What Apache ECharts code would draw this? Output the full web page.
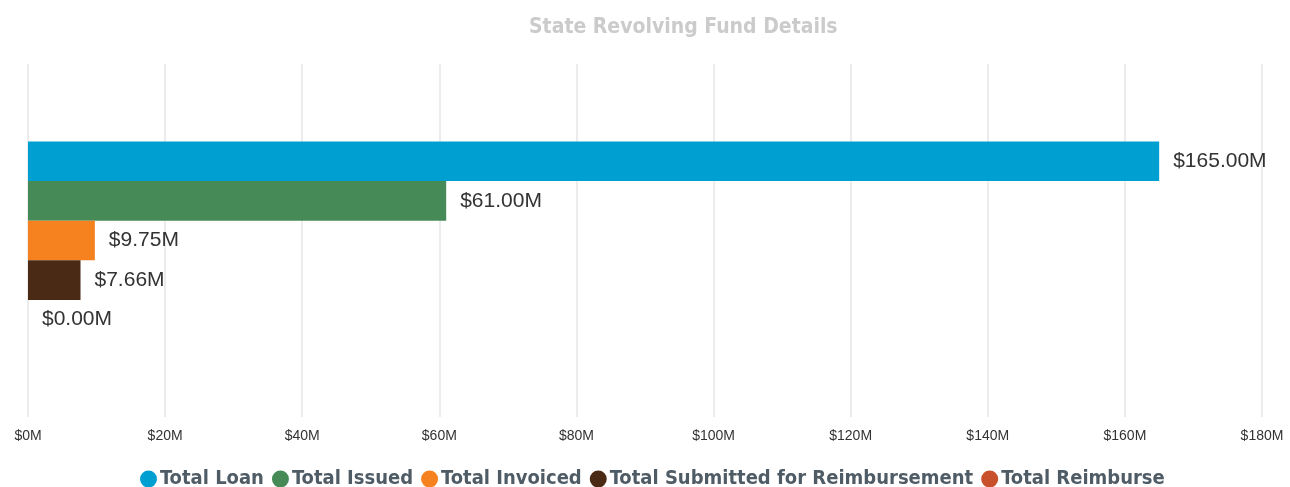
<!DOCTYPE html>
<html><head><meta charset="utf-8">
<script src="https://cdn.jsdelivr.net/npm/echarts@6/dist/echarts.min.js"></script>
<style>html,body{margin:0;padding:0;background:#fff}#c{width:1290px;height:487px}</style>
</head><body><div id="c"></div>
<script>
const categories = ['State Revolving Fund'];
const seriesNames = ['Total Loan','Total Issued','Total Invoiced','Total Submitted for Reimbursement','Total Reimburse'];
const seriesValues = [[165.00],[61.00],[9.75],[7.66],[0.00]];
const seriesColors = ['#009fd1','#468b57','#f5821f','#4a2a14','#c8502a'];
const xTicks = {min:0, max:180, interval:20};

const chart = echarts.init(document.getElementById('c'));
const condFont = '"DejaVu Sans Condensed","DejaVu Sans",sans-serif';
const labFont = '"Liberation Sans",Arial,sans-serif';
chart.setOption({
  animation:false,
  title:{text:'State Revolving Fund Details', left:524, top:12,
    textStyle:{color:'#cbcbcb', fontSize:21, fontWeight:'bold', fontFamily:condFont}},
  legend:{top:464, left:135, icon:'circle', itemWidth:17, itemHeight:17, itemGap:8,
    textStyle:{color:'#4f5c66', fontSize:20, fontWeight:'bold', fontFamily:condFont, padding:[0,0,0,-2]}},
  grid:{left:28, right:28, top:64, bottom:70},
  xAxis:{type:'value', min:xTicks.min, max:xTicks.max, interval:xTicks.interval,
    axisLine:{show:false}, axisTick:{show:false},
    splitLine:{lineStyle:{color:'#e6e6e6', width:1.5}},
    axisLabel:{formatter:v=>'$'+v+'M', color:'#333', fontSize:14, fontFamily:labFont, margin:12}},
  yAxis:{type:'category', data:categories, inverse:true, show:false},
  series: seriesNames.map((n,i)=>({
    name:n, type:'bar', data:seriesValues[i], barWidth:39.6, barGap:'0%',
    itemStyle:{color:seriesColors[i]},
    label:{show:true, position:'right', distance:14, color:'#333', fontSize:21, fontFamily:labFont,
      formatter:p=>'$'+p.value.toFixed(2)+'M'}
  }))
});
</script></body></html>
